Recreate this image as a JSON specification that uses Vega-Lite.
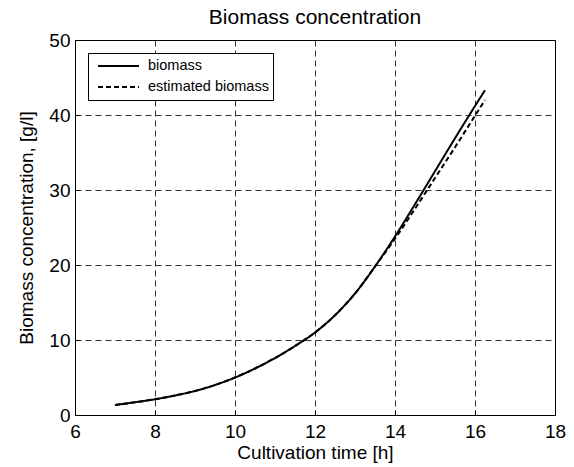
{
  "$schema": "https://vega.github.io/schema/vega-lite/v6.json",
  "width": 480,
  "height": 375,
  "autosize": {"type": "none"},
  "padding": {"left": 75, "top": 40, "right": 19, "bottom": 52},
  "background": "white",
  "title": {"text": "Biomass concentration", "fontSize": 21, "fontWeight": "normal", "font": "Liberation Sans", "color": "black", "baseline": "bottom", "offset": -18, "frame": "group", "anchor": "middle"},
  "config": {
    "view": {"stroke": "black", "strokeWidth": 1},
    "font": "Liberation Sans"
  },
  "data": {"values": [
    {"t": 7, "value": 1.33, "series": "biomass"},
    {"t": 7.5, "value": 1.7, "series": "biomass"},
    {"t": 8, "value": 2.1, "series": "biomass"},
    {"t": 8.5, "value": 2.6, "series": "biomass"},
    {"t": 9, "value": 3.2, "series": "biomass"},
    {"t": 9.5, "value": 4.0, "series": "biomass"},
    {"t": 10, "value": 5.0, "series": "biomass"},
    {"t": 10.5, "value": 6.2, "series": "biomass"},
    {"t": 11, "value": 7.6, "series": "biomass"},
    {"t": 11.5, "value": 9.2, "series": "biomass"},
    {"t": 12, "value": 11.0, "series": "biomass"},
    {"t": 12.5, "value": 13.3, "series": "biomass"},
    {"t": 13, "value": 16.2, "series": "biomass"},
    {"t": 13.5, "value": 19.8, "series": "biomass"},
    {"t": 14, "value": 23.8, "series": "biomass"},
    {"t": 14.5, "value": 28.1, "series": "biomass"},
    {"t": 15, "value": 32.5, "series": "biomass"},
    {"t": 15.5, "value": 36.9, "series": "biomass"},
    {"t": 16, "value": 41.2, "series": "biomass"},
    {"t": 16.25, "value": 43.3, "series": "biomass"},
    {"t": 7, "value": 1.33, "series": "estimated biomass"},
    {"t": 7.5, "value": 1.7, "series": "estimated biomass"},
    {"t": 8, "value": 2.1, "series": "estimated biomass"},
    {"t": 8.5, "value": 2.6, "series": "estimated biomass"},
    {"t": 9, "value": 3.2, "series": "estimated biomass"},
    {"t": 9.5, "value": 4.0, "series": "estimated biomass"},
    {"t": 10, "value": 5.0, "series": "estimated biomass"},
    {"t": 10.5, "value": 6.2, "series": "estimated biomass"},
    {"t": 11, "value": 7.6, "series": "estimated biomass"},
    {"t": 11.5, "value": 9.2, "series": "estimated biomass"},
    {"t": 12, "value": 11.0, "series": "estimated biomass"},
    {"t": 12.5, "value": 13.3, "series": "estimated biomass"},
    {"t": 13, "value": 16.2, "series": "estimated biomass"},
    {"t": 13.5, "value": 19.8, "series": "estimated biomass"},
    {"t": 14, "value": 23.5, "series": "estimated biomass"},
    {"t": 14.5, "value": 27.5, "series": "estimated biomass"},
    {"t": 15, "value": 31.6, "series": "estimated biomass"},
    {"t": 15.5, "value": 35.7, "series": "estimated biomass"},
    {"t": 16, "value": 39.9, "series": "estimated biomass"},
    {"t": 16.25, "value": 42.0, "series": "estimated biomass"}
  ]},
  "mark": {"type": "line", "color": "black", "strokeWidth": 2, "interpolate": "monotone"},
  "encoding": {
    "x": {"field": "t", "type": "quantitative", "scale": {"domain": [6, 18], "nice": false},
      "axis": {"values": [6, 8, 10, 12, 14, 16, 18], "title": "Cultivation time [h]", "grid": true, "gridDash": [6, 4], "gridColor": "black", "gridOpacity": 0.8,
        "domainColor": "black", "tickColor": "black", "tickSize": -5, "labelPadding": 12, "labelFontSize": 19, "labelColor": "black", "labelFont": "Liberation Sans",
        "titleFontSize": 19, "titleFontWeight": "normal", "titleColor": "black", "titleFont": "Liberation Sans", "titlePadding": 2, "labelFlush": false}},
    "y": {"field": "value", "type": "quantitative", "scale": {"domain": [0, 50], "nice": false},
      "axis": {"values": [0, 10, 20, 30, 40, 50], "title": "Biomass concentration, [g/l]", "grid": true, "gridDash": [6, 4], "gridColor": "black", "gridOpacity": 0.8,
        "domainColor": "black", "tickColor": "black", "tickSize": -5, "labelPadding": 10, "labelFontSize": 19, "labelColor": "black", "labelFont": "Liberation Sans",
        "titleFontSize": 19, "titleFontWeight": "normal", "titleColor": "black", "titleFont": "Liberation Sans", "titlePadding": 12, "labelFlush": false}},
    "strokeDash": {"field": "series", "type": "nominal",
      "scale": {"domain": ["biomass", "estimated biomass"], "range": [[1, 0], [5, 3]]},
      "legend": {"title": null, "orient": "none", "legendX": 13, "legendY": 13, "direction": "vertical",
        "strokeColor": "black", "fillColor": "white", "padding": 4, "cornerRadius": 0,
        "symbolType": "stroke", "symbolSize": 1681, "symbolStrokeWidth": 2, "symbolStrokeColor": "black", "symbolOffset": 5,
        "clipHeight": 18,
        "labelFontSize": 14.5, "labelFont": "Liberation Sans", "labelColor": "black", "labelOffset": 8, "rowPadding": 3}}
  }
}
